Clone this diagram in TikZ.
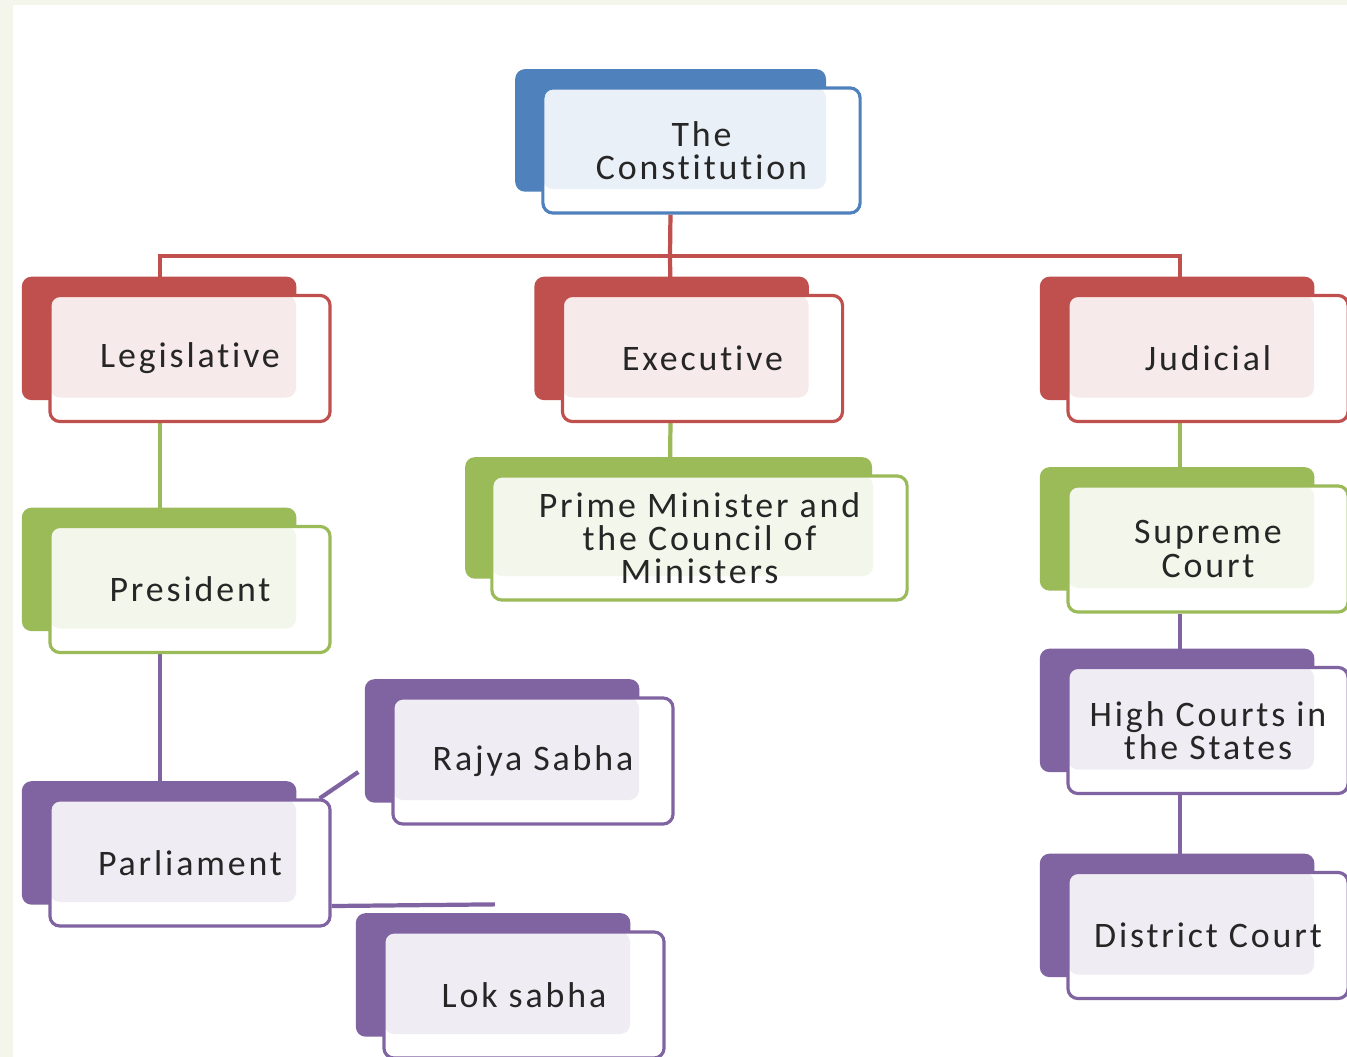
\documentclass[tikz,border=0pt]{standalone}
\usepackage{fontspec}
\setmainfont{Carlito}[LetterSpace=8, Ligatures=NoCommon]
\usetikzlibrary{shadows, backgrounds}

\definecolor{cblue}{HTML}{4F81BD}
\definecolor{cred}{HTML}{C0504D}
\definecolor{cgreen}{HTML}{9BBB59}
\definecolor{cpurple}{HTML}{8064A2}
\definecolor{bgtint}{HTML}{F4F6EC}

\begin{document}
\begin{tikzpicture}[x=0.01cm, y=-0.01cm,
  unit/.style={draw=#1, fill=white, line width=0.9pt, rounded corners=0.1cm,
    minimum width=2.8cm, minimum height=1.26cm, align=center, inner sep=2pt,
    font=\fontsize{10.2}{9.4}\selectfont, text=black!85,
    general shadow={fill=#1, shadow scale=0.98, shadow xshift=-0.315cm, shadow yshift=0.205cm},
    path picture={\fill[#1!12, rounded corners=0.1cm] (path picture bounding box.north west) rectangle ([xshift=-0.34cm, yshift=0.24cm]path picture bounding box.south east);}},
  link/.style={draw=#1, line width=1.2pt}]
   \useasboundingbox (0,0) rectangle (1347,1057);

   % Top
   \node[unit=cblue, minimum width=3.17cm, minimum height=1.25cm] (con) at (701.5,150.5) {The\\Constitution};

   % Three organs
   \node[unit=cred] (leg) at (190,358.5) {Legislative};
   \node[unit=cred] (exe) at (702.5,358.5) {Executive};
   \node[unit=cred] (jud) at (1208,358.5) {Judicial};

   % Second level
   \node[unit=cgreen] (pres) at (190,589.5) {President};
   \node[unit=cgreen, minimum width=4.15cm, minimum height=1.24cm] (pm) at (699.5,538) {Prime Minister and\\the Council of\\Ministers};
   \node[unit=cgreen] (sc) at (1208,549) {Supreme\\Court};

   % Lower levels
   \node[unit=cpurple] (rs) at (533,761) {Rajya Sabha};
   \node[unit=cpurple] (parl) at (190,863) {Parliament};
   \node[unit=cpurple] (ls) at (524,995) {Lok sabha};
   \node[unit=cpurple] (hc) at (1208,730.5) {High Courts in\\the States};
   \node[unit=cpurple] (dc) at (1208,935.5) {District Court};

   \begin{scope}[on background layer]
   \fill[bgtint] (0,0) rectangle (1347,1057);
   \fill[white] (13,5) rectangle (1347,1057);

   % Connectors
   \coordinate (bus) at (670,256);
   \draw[link=cred] ([xshift=-0.31cm]con.south) -- (bus);
   \draw[link=cred] ([xshift=-0.3cm]leg.north) |- (bus) -| ([xshift=-0.28cm]jud.north);
   \draw[link=cred] (bus) -- ([xshift=-0.32cm]exe.north);

   \draw[link=cgreen] ([xshift=-0.3cm]leg.south) -- ([xshift=-0.3cm]pres.north);
   \draw[link=cgreen] ([xshift=-0.32cm]exe.south) -- ([xshift=-0.295cm]pm.north);
   \draw[link=cgreen] ([xshift=-0.28cm]jud.south) -- ([xshift=-0.28cm]sc.north);

   \draw[link=cpurple] ([xshift=-0.3cm]pres.south) -- ([xshift=-0.3cm]parl.north);
   \draw[link=cpurple] ([xshift=-0.12cm]parl.north east) -- ([xshift=-0.33cm, yshift=-0.11cm]rs.west);
   \draw[link=cpurple] ([yshift=-0.43cm]parl.east) -- ([xshift=-0.29cm, yshift=0.26cm]ls.north);
   \draw[link=cpurple] ([xshift=-0.28cm]sc.south) -- ([xshift=-0.28cm]hc.north);
   \draw[link=cpurple] ([xshift=-0.28cm]hc.south) -- ([xshift=-0.28cm]dc.north);
   \end{scope}
\end{tikzpicture}
\end{document}
